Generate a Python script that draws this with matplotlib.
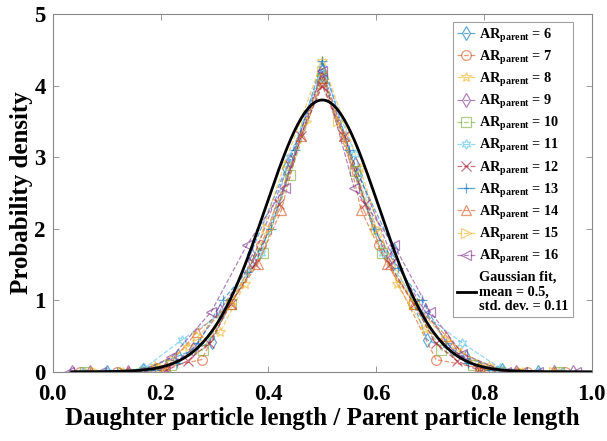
import numpy as np
import matplotlib
matplotlib.use("Agg")
import matplotlib.pyplot as plt

plt.rcParams['font.family'] = ['Liberation Serif', 'DejaVu Serif']
plt.rcParams['font.weight'] = 'bold'
plt.rcParams['mathtext.fontset'] = 'custom'
plt.rcParams['mathtext.rm'] = 'Liberation Serif'
plt.rcParams['mathtext.bf'] = 'Liberation Serif:bold'

# data: x = daughter/parent length, y = probability density
ar_values = [6, 7, 8, 9, 10, 11, 12, 13, 14, 15, 16]

x6 = [0.10, 0.167, 0.233, 0.296, 0.367, 0.433, 0.50, 0.567, 0.633, 0.694, 0.767, 0.833, 0.90]
y6 = [0, 0.03, 0.22, 0.42, 1.65, 2.85, 4.15, 2.75, 1.70, 0.45, 0.20, 0.02, 0]
x7 = [0.05, 0.12, 0.19, 0.276, 0.387, 0.50, 0.605, 0.711, 0.81, 0.88, 0.95]
y7 = [0, 0, 0.03, 0.17, 1.77, 4.05, 1.77, 0.17, 0.03, 0, 0]
x8 = [0.06, 0.13, 0.19, 0.25, 0.31, 0.356, 0.43, 0.50, 0.57, 0.639, 0.69, 0.75, 0.81, 0.87, 0.94]
y8 = [0, 0, 0.08, 0.35, 0.55, 1.22, 2.90, 4.35, 2.85, 1.22, 0.60, 0.30, 0.08, 0, 0]
x9 = [0.035, 0.069, 0.14, 0.21, 0.26, 0.31, 0.37, 0.44, 0.50, 0.56, 0.63, 0.69, 0.74, 0.79, 0.86, 0.93, 0.965]
y9 = [0, 0, 0, 0.05, 0.32, 0.85, 1.55, 2.95, 4.20, 2.90, 1.60, 0.85, 0.32, 0.05, 0, 0, 0]
x10 = [0.06, 0.17, 0.22, 0.278, 0.33, 0.39, 0.44, 0.50, 0.56, 0.61, 0.67, 0.72, 0.78, 0.83, 0.94]
y10 = [0, 0, 0.10, 0.31, 0.95, 1.66, 2.75, 4.10, 2.80, 1.66, 0.95, 0.31, 0.10, 0, 0]
x11 = [0.056, 0.10, 0.17, 0.24, 0.31, 0.387, 0.44, 0.50, 0.56, 0.613, 0.69, 0.76, 0.83, 0.90, 0.944]
y11 = [0, 0, 0.05, 0.45, 0.80, 1.66, 3.00, 4.25, 3.05, 1.66, 0.80, 0.40, 0.05, 0, 0]
x12 = [0.133, 0.21, 0.25, 0.29, 0.33, 0.375, 0.42, 0.46, 0.50, 0.54, 0.58, 0.625, 0.67, 0.71, 0.75, 0.79, 0.87]
y12 = [0, 0.02, 0.15, 0.40, 0.95, 1.50, 2.35, 3.30, 4.00, 3.30, 2.35, 1.50, 0.95, 0.40, 0.15, 0.02, 0]
x13 = [0.12, 0.19, 0.23, 0.27, 0.315, 0.36, 0.405, 0.45, 0.50, 0.55, 0.595, 0.64, 0.685, 0.73, 0.77, 0.81, 0.88]
y13 = [0, 0.02, 0.12, 0.40, 1.00, 1.40, 2.00, 3.10, 4.35, 3.10, 2.00, 1.45, 1.00, 0.40, 0.12, 0.02, 0]
x14 = [0.07, 0.14, 0.21, 0.268, 0.33, 0.38, 0.424, 0.46, 0.50, 0.54, 0.572, 0.62, 0.67, 0.73, 0.79, 0.86, 0.93]
y14 = [0, 0, 0.05, 0.56, 0.95, 1.50, 2.26, 3.30, 4.10, 3.30, 2.26, 1.50, 0.95, 0.50, 0.05, 0, 0]
x15 = [0.08, 0.13, 0.20, 0.27, 0.33, 0.40, 0.47, 0.50, 0.53, 0.60, 0.67, 0.73, 0.80, 0.87, 0.93]
y15 = [0, 0, 0.05, 0.50, 0.95, 2.00, 3.50, 4.20, 3.50, 2.00, 0.95, 0.45, 0.05, 0, 0]
x16 = [0.03, 0.09, 0.16, 0.22, 0.294, 0.36, 0.43, 0.50, 0.559, 0.633, 0.70, 0.76, 0.84, 0.90, 0.97]
y16 = [0, 0, 0, 0.20, 0.84, 1.77, 2.57, 4.20, 2.57, 1.77, 0.84, 0.25, 0, 0, 0]

xs = [x6, x7, x8, x9, x10, x11, x12, x13, x14, x15, x16]
ys = [y6, y7, y8, y9, y10, y11, y12, y13, y14, y15, y16]

# gaussian fit parameters
fit_mean = 0.5
fit_std = 0.105

colors = ['#0072BD', '#D95319', '#EDB120', '#7E2F8E', '#77AC30', '#4DBEEE',
          '#A2142F', '#0072BD', '#D95319', '#EDB120', '#7E2F8E']
markers = ['d', 'o', '*', 'd', 's', (6, 1, 0), 'x', '+', '^', '>', '<']

fig = plt.figure(figsize=(6.07, 4.41), dpi=100)
ax = fig.add_axes([0.087, 0.157, 0.888, 0.811])

for ar, x, y, c, m in zip(ar_values, xs, ys, colors, markers):
    ax.plot(x, y, linestyle='--', color=c, alpha=0.6, linewidth=0.9,
            marker=m, markersize=7, markerfacecolor='none', markeredgewidth=0.9,
            label=r'$\mathbf{AR}_{\mathbf{parent}}$ = %d' % ar)

xf = np.linspace(0.035, 1.0, 300)
yf = np.exp(-0.5 * ((xf - fit_mean) / fit_std) ** 2) / (fit_std * np.sqrt(2 * np.pi))
ax.plot(xf, yf, color='black', linewidth=2.0,
        label='Gaussian fit,\nmean = 0.5,\nstd. dev. = 0.11')

ax.set_xlim(0, 1.0)
ax.set_ylim(0, 5)
ax.set_xticks([0, 0.2, 0.4, 0.6, 0.8, 1.0])
ax.set_xticklabels(['0.0', '0.2', '0.4', '0.6', '0.8', '1.0'])
ax.set_yticks([0, 1, 2, 3, 4, 5])
ax.tick_params(direction='in', length=4, width=0.6, color='#888888',
               labelsize=16.5, top=True, right=True)
ax.tick_params(axis='x', pad=9)
ax.tick_params(axis='y', pad=5)
for s in ax.spines.values():
    s.set_color('#888888')
    s.set_linewidth(0.8)

ax.set_xlabel('Daughter particle length / Parent particle length', fontsize=18, fontweight='bold', labelpad=1)
ax.set_ylabel('Probability density', fontsize=18, fontweight='bold', labelpad=1)

leg = ax.legend(loc='upper right', bbox_to_anchor=(0.965, 0.978), borderaxespad=0,
                fancybox=False, edgecolor='#888888',
                handlelength=1.3, handletextpad=0.25, labelspacing=0.27,
                borderpad=0.3, prop={'weight': 'bold', 'size': 10.3})
leg.get_frame().set_linewidth(0.8)

plt.savefig('out.png', dpi=100)
